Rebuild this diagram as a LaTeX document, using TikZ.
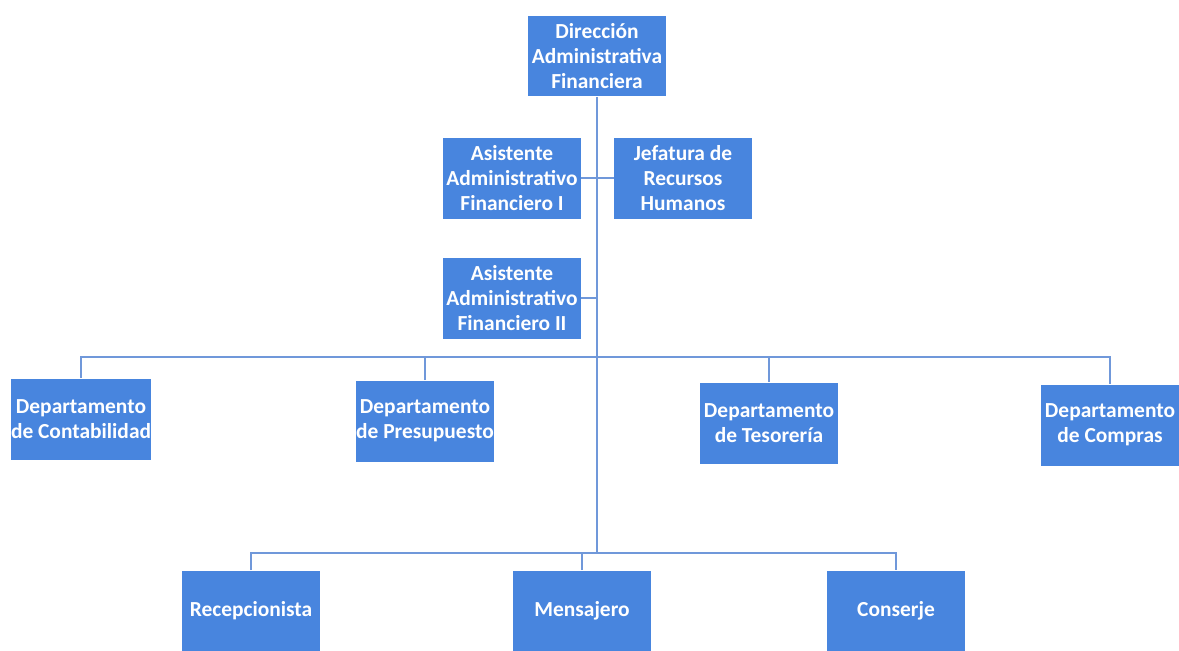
\documentclass[tikz,border=0pt]{standalone}
\usepackage{fontspec}
\setmainfont{Carlito}
\usetikzlibrary{positioning}
\definecolor{boxblue}{RGB}{72,133,222}
\definecolor{lineblue}{RGB}{112,152,218}

\begin{document}
\begin{tikzpicture}[x=0.02cm,y=-0.02cm,
  box/.style={rectangle,fill=boxblue,text=white,inner sep=0pt,align=center,
    minimum width=2.76cm,minimum height=1.62cm,
    font=\bfseries\fontsize{12.2}{14}\selectfont},
  link/.style={draw=lineblue,line width=1.1pt}]
  \useasboundingbox (0,0) rectangle (1179,650);
  % top of the chart
  \node[box] (dir) at (597,56) {Dirección\\Administrativa\\Financiera};
  \node[box] (asi1) at (512,178) {Asistente\\Administrativo\\Financiero I};
  \node[box] (jef) at (683,178) {Jefatura de\\Recursos\\Humanos};
  \node[box] (asi2) at (512,298) {Asistente\\Administrativo\\Financiero II};
  % departments
  \node[box] (cont) at (81,419) {Departamento\\de Contabilidad};
  \node[box] (pres) at (425,421) {Departamento\\de Presupuesto};
  \node[box] (tes) at (769,423) {Departamento\\de Tesorería};
  \node[box] (comp) at (1110,425) {Departamento\\de Compras};
  % staff
  \node[box] (rec) at (251,611) {Recepcionista};
  \node[box] (men) at (582,611) {Mensajero};
  \node[box] (con) at (896,611) {Conserje};
  \coordinate (hub) at (597,357);
  \coordinate (lowhub) at (597,553);
  % connectors
  \draw[link] (dir.south) -- (lowhub);
  \draw[link] (asi1.east) -- (asi1.east -| jef.west);
  \draw[link] (asi2.east) -- (asi2.east -| dir.south);
  \draw[link] (cont.north) -- (cont.north |- hub) -- (comp.north |- hub) -- (comp.north);
  \draw[link] (pres.north) -- (pres.north |- hub);
  \draw[link] (tes.north) -- (tes.north |- hub);
  \draw[link] (rec.north) -- (rec.north |- lowhub) -- (con.north |- lowhub) -- (con.north);
  \draw[link] (men.north) -- (men.north |- lowhub);
\end{tikzpicture}
\end{document}
